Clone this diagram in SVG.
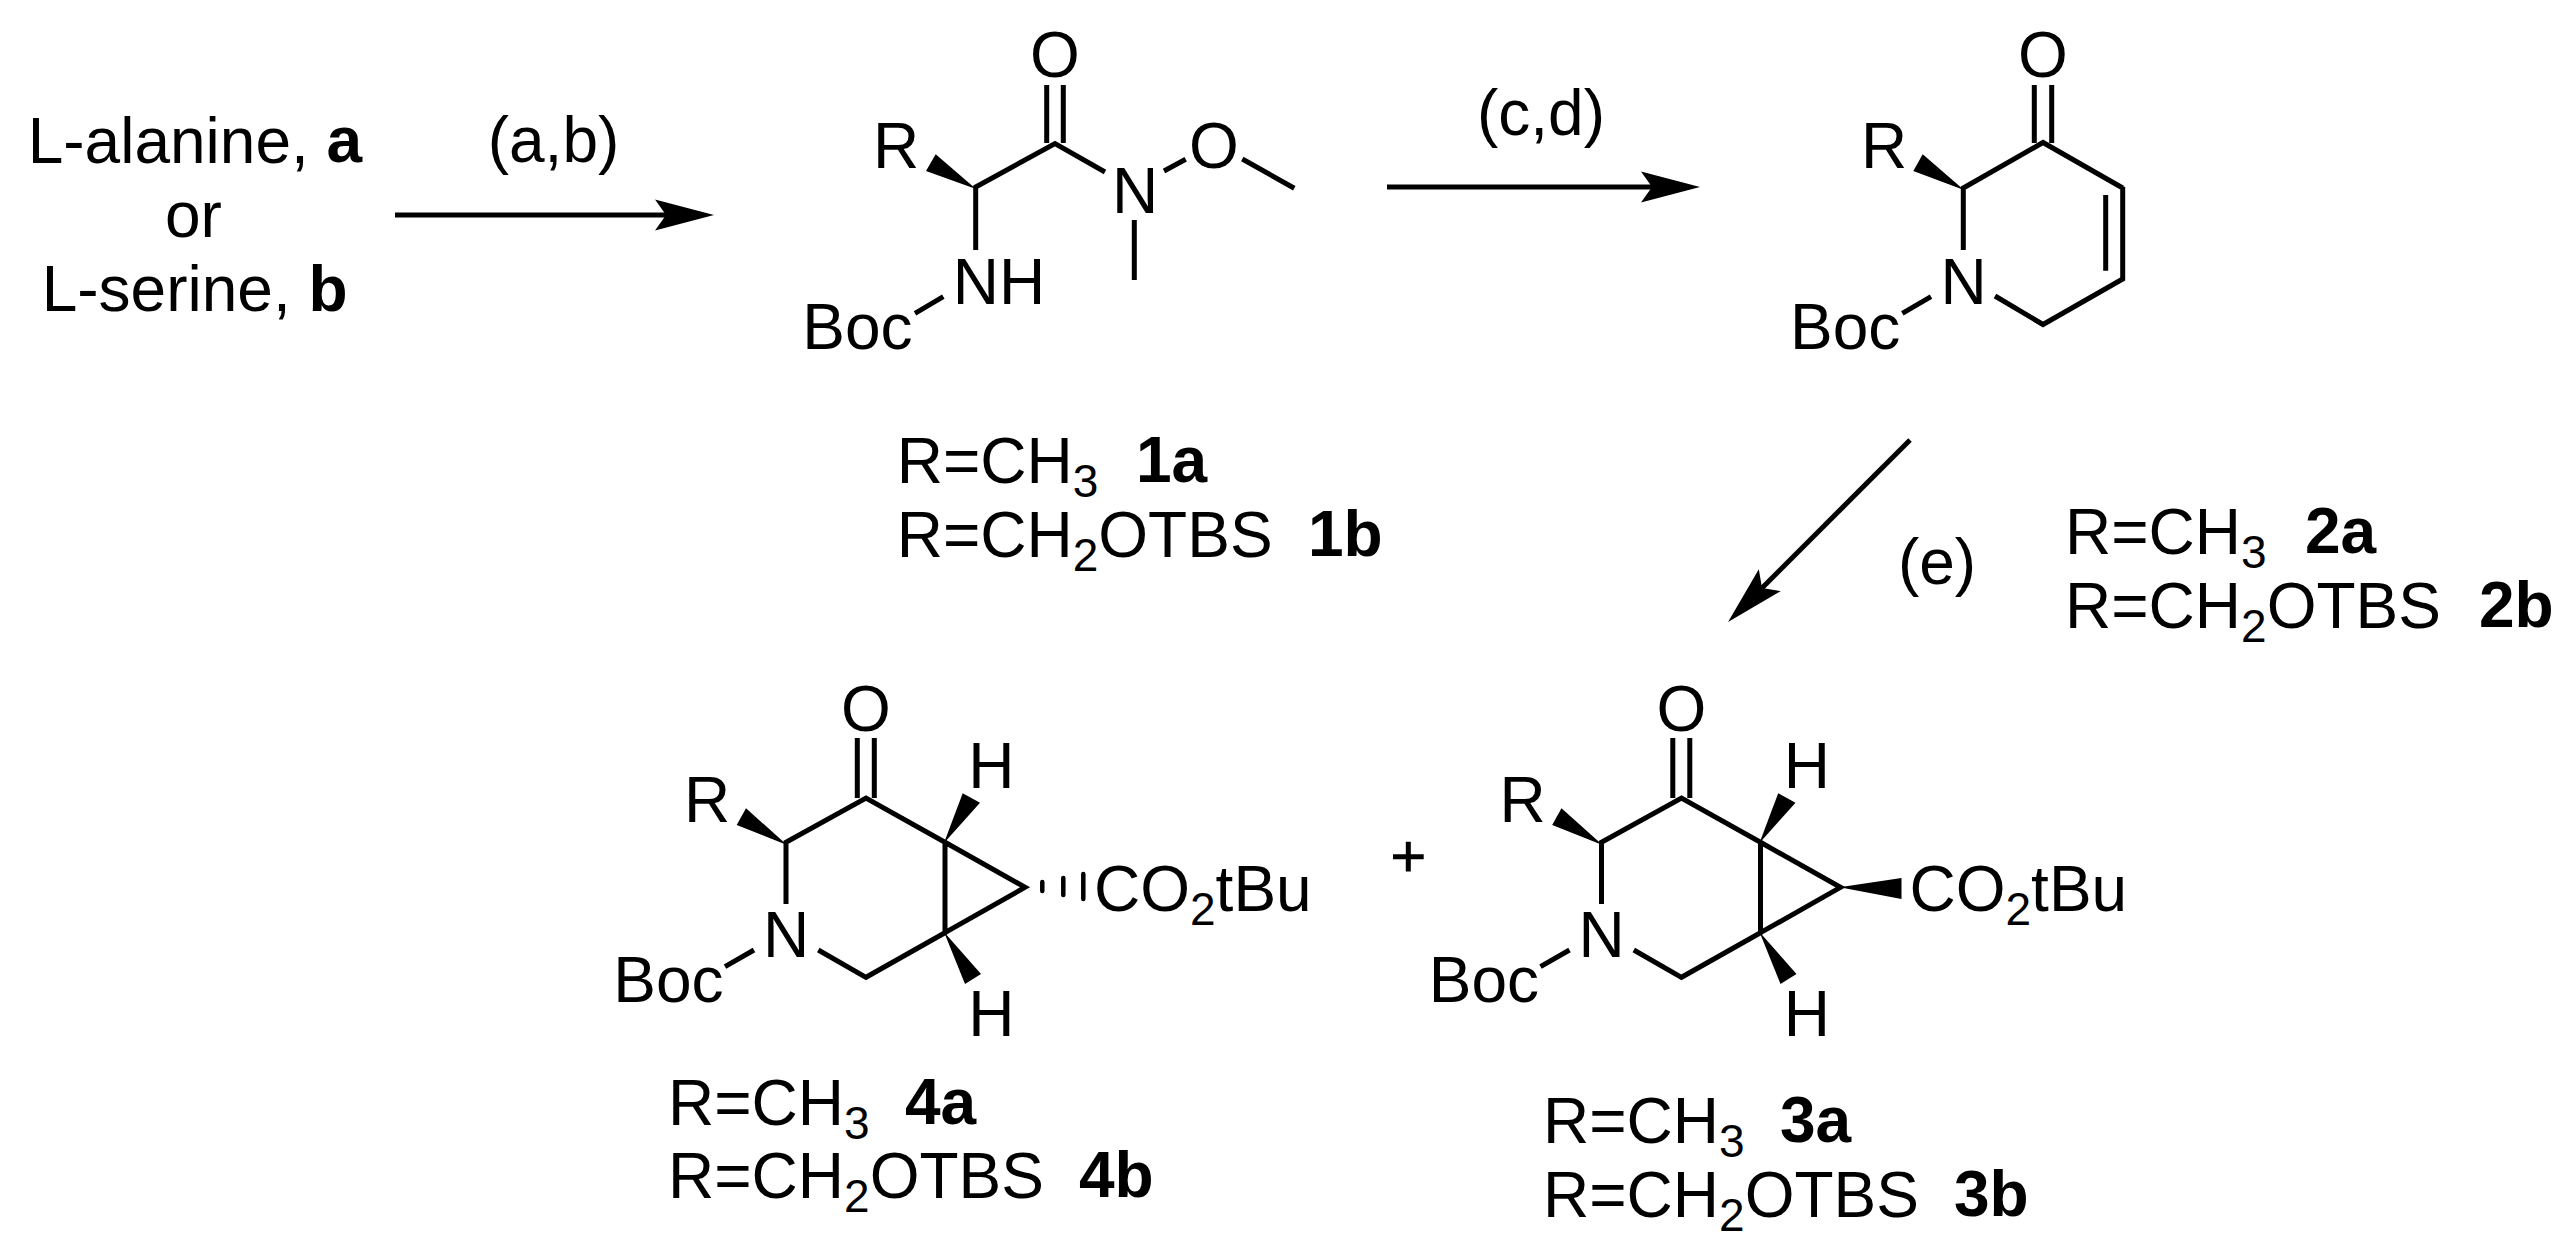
<svg xmlns="http://www.w3.org/2000/svg" width="2576" height="1255" viewBox="0 0 2576 1255">
<style>
text{font-family:"Liberation Sans",Arial,sans-serif;font-size:64px;fill:#000}
.b{font-weight:bold}
.s{font-size:46px}
.bond{stroke:#000;stroke-width:5;fill:none;stroke-linecap:butt;stroke-linejoin:miter}
.hash{stroke:#000;stroke-width:4.5;fill:none;stroke-linecap:round}
.arrow{stroke:#000;stroke-width:5;fill:none}
.w{fill:#000;stroke:none}
</style>
<defs>
<marker id="head" markerUnits="userSpaceOnUse" markerWidth="64" markerHeight="36" refX="11" refY="16" orient="auto" viewBox="0 0 64 36"><path d="M0,0.5 L59,16 L0,31.5 L11,16 Z" fill="#000"/></marker>
</defs>
<rect width="2576" height="1255" fill="#fff"/>
<g id="connectors">
<line class="arrow" x1="395" y1="215" x2="666" y2="215" marker-end="url(#head)"/>
<line class="arrow" x1="1387" y1="187" x2="1652" y2="187" marker-end="url(#head)"/>
<line class="arrow" x1="1910" y1="440" x2="1762" y2="588" marker-end="url(#head)"/>
<text x="553.5" y="162" text-anchor="middle">(a,b)</text>
<text x="1541" y="135" text-anchor="middle">(c,d)</text>
<text x="1937" y="584" text-anchor="middle">(e)</text>
</g>
<g id="start">
<text x="27.7" y="163">L-alanine, <tspan class="b" dy="-1">a</tspan></text>
<text x="165" y="236.7">or</text>
<text x="41.7" y="310.7">L-serine, <tspan class="b">b</tspan></text>
</g>
<g id="compound-1">
<path class="bond" d="M1046.7 85V143M1063.3 85V143M1105 172L1055 143.5L975.7 187V250M1134.3 220V280M1164 171L1185.7 159.3M1242.3 159L1294.3 188.3M943.3 296.7L915 313.3"/>
<polygon class="w" points="976,189 935.7,154.3 926,171"/>
<text x="1055" y="76.5" text-anchor="middle">O</text>
<text x="873" y="168.3">R</text>
<text x="1135" y="213.3" text-anchor="middle">N</text>
<text x="1214" y="167.5" text-anchor="middle">O</text>
<text x="952.7" y="303.7">NH</text>
<text x="802.3" y="349.3">Boc</text>
<text x="896.7" y="483.3">R=CH<tspan class="s" dy="14">3</tspan><tspan dy="-15.5" x="1136" class="b">1a</tspan></text>
<text x="896.7" y="557.3">R=CH<tspan class="s" dy="14">2</tspan><tspan dy="-14">OTBS</tspan><tspan x="1308" dy="-1.5" class="b">1b</tspan></text>
</g>
<g id="compound-2">
<path class="bond" d="M2034.3 85V143M2051.7 85V143M2122.7 188L2043 142.5L1963.3 188V250M2122.7 186.7V279L2043 324.5L1995 296M2105.7 195V270.7M1931 296.7L1902.3 313.3"/>
<polygon class="w" points="1964,190 1922.7,154.3 1913.3,171"/>
<text x="2043" y="76.5" text-anchor="middle">O</text>
<text x="1861" y="168.3">R</text>
<text x="1963.7" y="303.7" text-anchor="middle">N</text>
<text x="1790" y="349.3">Boc</text>
<text x="2065" y="554.3">R=CH<tspan class="s" dy="14">3</tspan><tspan dy="-15.5" x="2305" class="b">2a</tspan></text>
<text x="2065" y="628.3">R=CH<tspan class="s" dy="14">2</tspan><tspan dy="-14">OTBS</tspan><tspan x="2479" dy="-1.5" class="b">2b</tspan></text>
</g>
<g id="compound-4">
<path class="bond" d="M857.3 738V798M874.3 738V798M786 904V842.3L866 798L945 842.3V932.7L866 977.3L818.3 950M945 842.3L1025 887.3L945 932.7M754 950L725 966.7"/>
<polygon class="w" points="787,845 746,808.3 736.7,825"/>
<polygon class="w" points="944,843 962.7,793.3 980,802.7"/>
<polygon class="w" points="944,932 981,974 965,984"/>
<path class="hash" d="M1042.3 882V891M1063.3 878V895M1083.3 874V899"/>
<text x="865.8" y="730.5" text-anchor="middle">O</text>
<text x="684" y="821.7">R</text>
<text x="786" y="957.3" text-anchor="middle">N</text>
<text x="613.3" y="1001.7">Boc</text>
<text x="991.3" y="788.3" text-anchor="middle">H</text>
<text x="991.3" y="1036" text-anchor="middle">H</text>
<text x="1094" y="911">CO<tspan class="s" dy="14">2</tspan><tspan dy="-14">tBu</tspan></text>
<text x="668" y="1125">R=CH<tspan class="s" dy="14">3</tspan><tspan dy="-15.5" x="905" class="b">4a</tspan></text>
<text x="668" y="1198.3">R=CH<tspan class="s" dy="14">2</tspan><tspan dy="-14">OTBS</tspan><tspan x="1079" dy="-1.5" class="b">4b</tspan></text>
</g>
<g id="plus"><path class="bond" d="M1393 856.7H1423.7M1408.3 841.7V871.6"/></g>
<g id="compound-3">
<g transform="translate(815.5 0)">
<path class="bond" d="M857.3 738V798M874.3 738V798M786 904V842.3L866 798L945 842.3V932.7L866 977.3L818.3 950M945 842.3L1025 887.3L945 932.7M754 950L725 966.7"/>
<polygon class="w" points="787,845 746,808.3 736.7,825"/>
<polygon class="w" points="944,843 962.7,793.3 980,802.7"/>
<polygon class="w" points="944,932 981,974 965,984"/>
<polygon class="w" points="1024,887.3 1086,878 1086,899"/>
<text x="865.8" y="730.5" text-anchor="middle">O</text>
<text x="684" y="821.7">R</text>
<text x="786" y="957.3" text-anchor="middle">N</text>
<text x="613.3" y="1001.7">Boc</text>
<text x="991.3" y="788.3" text-anchor="middle">H</text>
<text x="991.3" y="1036" text-anchor="middle">H</text>
<text x="1094" y="911">CO<tspan class="s" dy="14">2</tspan><tspan dy="-14">tBu</tspan></text>
</g>
<text x="1543" y="1143">R=CH<tspan class="s" dy="14">3</tspan><tspan dy="-15.5" x="1780" class="b">3a</tspan></text>
<text x="1543" y="1217">R=CH<tspan class="s" dy="14">2</tspan><tspan dy="-14">OTBS</tspan><tspan x="1954" dy="-1.5" class="b">3b</tspan></text>
</g>
</svg>
